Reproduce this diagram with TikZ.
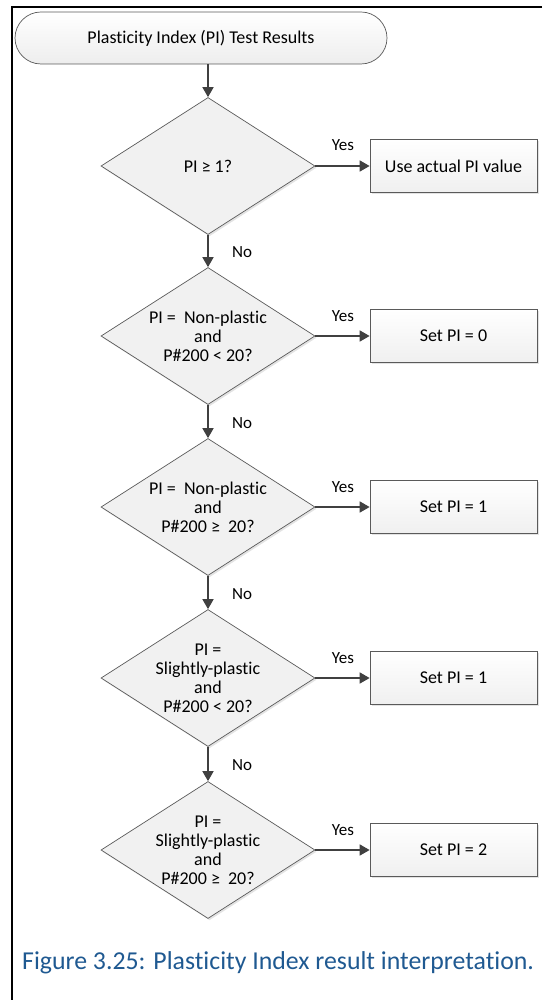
\documentclass[tikz,border=0pt]{standalone}
\usepackage{fontspec}
\setmainfont{Carlito}[Ligatures=NoCommon]
\usetikzlibrary{shapes.geometric,arrows.meta,shadows}
\definecolor{linec}{RGB}{64,64,64}
\definecolor{edgec}{RGB}{90,90,90}
\definecolor{capblue}{RGB}{31,89,145}
\begin{document}
\begin{tikzpicture}[x=1pt,y=-1pt,
  every node/.style={font=\fontsize{18}{19}\selectfont, text=black},
  shad/.style={drop shadow={opacity=0.22, shadow xshift=1.5pt, shadow yshift=-1.8pt}},
  term/.style={draw=edgec, line width=0.7pt, rounded corners=26pt, minimum width=372pt, minimum height=52pt, top color=white, bottom color=gray!14, inner sep=0pt},
  dec/.style={diamond, draw=edgec, line width=0.7pt, aspect=1.56, minimum width=214pt, minimum height=137pt, inner sep=0pt, fill=gray!11, align=center, shad},
  act/.style={rectangle, draw=edgec, line width=0.7pt, minimum width=167pt, minimum height=53pt, inner sep=0pt, top color=white, bottom color=gray!12, align=center, shad},
  flow/.style={draw=linec, line width=1.6pt, -{Triangle[length=10pt,width=11pt]}},
  lbl/.style={font=\fontsize{17}{18}\selectfont, inner sep=0pt},
  frame/.style={draw=black, line width=2pt}
]
\useasboundingbox (0,0) rectangle (542,1000);
\draw[frame] (542,7) -- (12,7) -- (12,1000);

\node[term] (t) at (201,38) {Plasticity Index (PI) Test Results};

\node[dec] (d1) at (208,166) {PI ≥ 1?};
\node[dec] (d2) at (208,336) {PI =\ \ Non-plastic\\and\\P\#200 < 20?};
\node[dec] (d3) at (208,507) {PI =\ \ Non-plastic\\and\\P\#200 ≥\ \ 20?};
\node[dec] (d4) at (208,678) {PI =\\Slightly-plastic\\and\\P\#200 < 20?};
\node[dec] (d5) at (208,850) {PI =\\Slightly-plastic\\and\\P\#200 ≥\ \ 20?};

\node[act] (b1) at (453.5,166) {Use actual PI value};
\node[act] (b2) at (453.5,336) {Set PI = 0};
\node[act] (b3) at (453.5,507) {Set PI = 1};
\node[act] (b4) at (453.5,678) {Set PI = 1};
\node[act] (b5) at (453.5,850) {Set PI = 2};

\draw[flow] (d1.north |- t.south) -- (d1.north);
\draw[flow] (d1.south) -- (d2.north);
\draw[flow] (d2.south) -- (d3.north);
\draw[flow] (d3.south) -- (d4.north);
\draw[flow] (d4.south) -- (d5.north);

\draw[flow] (d1.east) -- (b1.west);
\draw[flow] (d2.east) -- (b2.west);
\draw[flow] (d3.east) -- (b3.west);
\draw[flow] (d4.east) -- (b4.west);
\draw[flow] (d5.east) -- (b5.west);

\node[lbl] (y1) at (343,145) {Yes};
\node[lbl] (y2) at (343,316) {Yes};
\node[lbl] (y3) at (343,487) {Yes};
\node[lbl] (y4) at (343,658) {Yes};
\node[lbl] (y5) at (343,830) {Yes};

\node[lbl] (n1) at (242,252) {No};
\node[lbl] (n2) at (242,423) {No};
\node[lbl] (n3) at (242,594) {No};
\node[lbl] (n4) at (242,765) {No};

\node[anchor=west, text=capblue, font=\fontsize{25.8}{28}\selectfont, inner sep=0pt] (cap) at (22,963) {Figure 3.25: Plasticity Index result interpretation.};
\end{tikzpicture}
\end{document}
